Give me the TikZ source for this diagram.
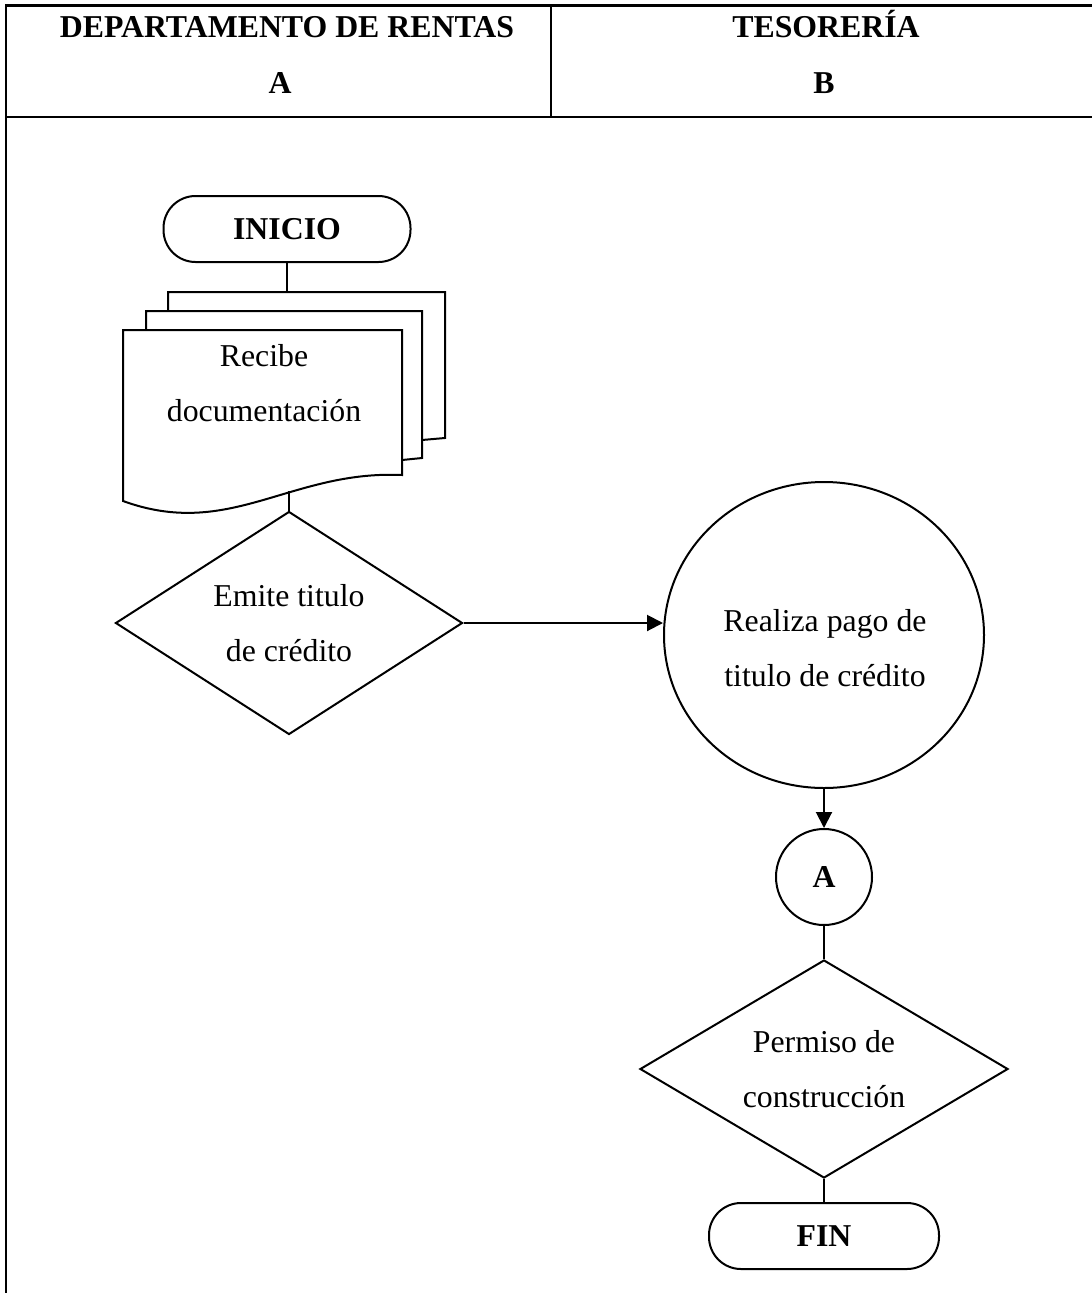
\documentclass[tikz,border=0pt]{standalone}
\usepackage{fontspec}
\setmainfont{Liberation Serif}
\usetikzlibrary{shapes.geometric,arrows.meta}
\begin{document}
\begin{tikzpicture}[x=1pt,y=-1pt,
  txt/.style={font=\fontsize{31.8}{55}\selectfont, align=center},
  boldtxt/.style={font=\fontsize{31.8}{55}\selectfont\bfseries, align=center},
  shp/.style={draw, line width=2pt, inner sep=0pt},
  term/.style={shp, rectangle, rounded corners=32pt, minimum height=66pt, boldtxt},
  decision/.style={shp, diamond, aspect=1.6, txt},
  link/.style={line width=2pt},
  arrow/.style={link, -{Triangle[length=16pt,width=16pt]}},
  grid/.style={line width=2.8pt}
]
\useasboundingbox (0,0) rectangle (1092,1293);

% swimlane table
\draw[grid] (6,5.5) -- (1092,5.5);
\draw[grid] (6,117) -- (1092,117);
\draw[grid] (6,4.1) -- (6,1293);
\draw[grid] (551,5.5) -- (551,117);

\node[boldtxt, anchor=base] (laneA) at (287,37) {DEPARTAMENTO DE RENTAS};
\node[boldtxt, anchor=base] (laneAid) at (280,93) {A};
\node[boldtxt, anchor=base] (laneB) at (826,37) {TESORERÍA};
\node[boldtxt, anchor=base] (laneBid) at (824,93) {B};

% start
\node[term, minimum width=247pt] (inicio) at (287,229) {INICIO};

% stacked documents
\draw[link] (168,311) -- (168,292) -- (445,292) -- (445,438) -- (422,440);
\draw[link] (146,330) -- (146,311) -- (422,311) -- (422,458) -- (402,460);
\draw[link, fill=white] (123,501) -- (123,330) -- (402,330) -- (402,475)
  .. controls (290,470) and (230,540) .. cycle;
\coordinate (doctop) at (287,292);
\coordinate (docbot) at (289,491);
\node[txt] (recibe) at (264,383) {Recibe\\documentación};
\draw[link] (inicio.south) -- (doctop);

% decision: emit credit title
\node[decision, minimum width=347pt, minimum height=223pt] (emite) at (289,623) {Emite titulo\\de crédito};
\draw[link] (docbot) -- (emite.north);

% payment
\node[shp, ellipse, minimum width=320pt, minimum height=306pt] (pago) at (824,635) {};
\node[txt] (pagotxt) at (825,648) {Realiza pago de\\titulo de crédito};
\draw[arrow] (emite.east) -- (emite.east -| pago.west);

% connector A
\node[shp, circle, minimum size=96pt, boldtxt] (conA) at (824,877) {A};
\draw[arrow] (pago.south) -- (conA.north);

% decision: building permit
\node[decision, minimum width=368pt, minimum height=218pt] (permiso) at (824,1069) {Permiso de\\construcción};
\draw[link] (conA.south) -- (permiso.north);

% end
\node[term, minimum width=230pt] (fin) at (824,1236) {FIN};
\draw[link] (permiso.south) -- (fin.north);
\end{tikzpicture}
\end{document}
